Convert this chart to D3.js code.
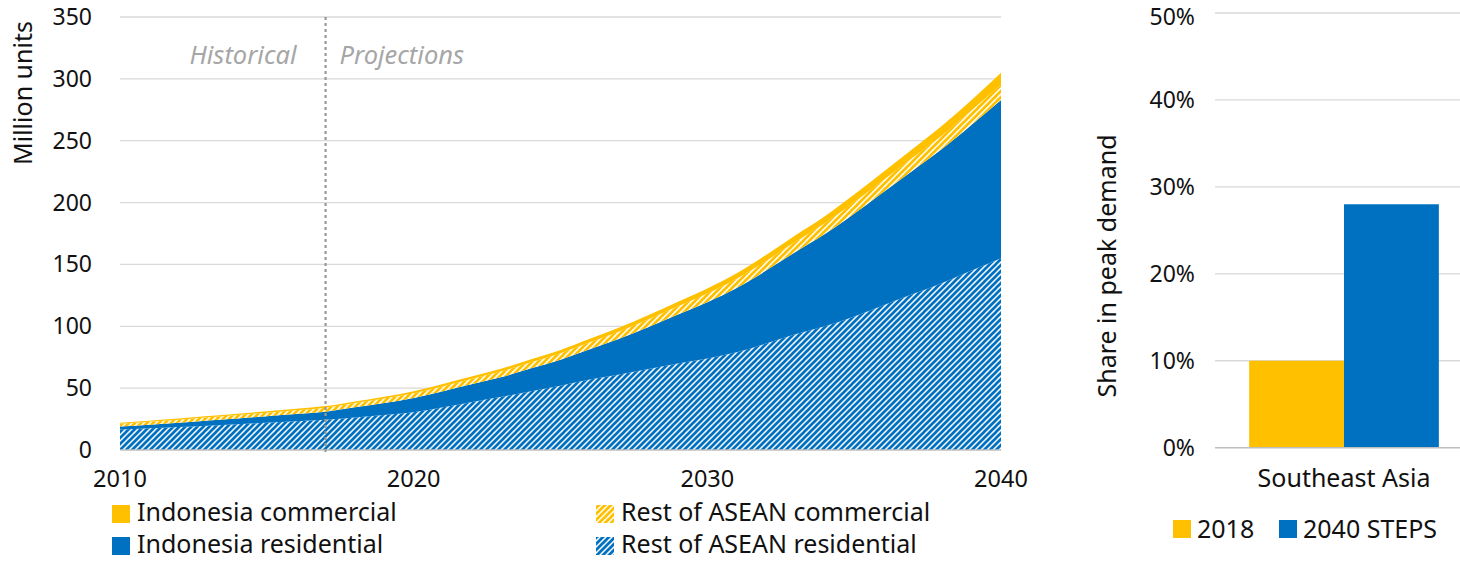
<!DOCTYPE html>
<html>
<head>
<meta charset="utf-8">
<script src="https://cdn.jsdelivr.net/npm/d3@7"></script>
<style>
  body { margin: 0; background: #fff; }
  text { font-family: "Noto Sans", sans-serif; fill: #111; }
</style>
</head>
<body>
<script>
// данные
years = d3.range(2010, 2041);
aseanRes = [16.5,17.5,18.6,19.7,20.8,22,23.2,24.4,26.2,28.2,30.5,34.5,38.8,43,47.5,52,57,61,65.5,70,74,79,86,93.5,100,108,117,126,135,145,155];
indoRes  = [2.5,3,3.4,4.1,4.7,5.3,5.9,6.6,8.3,9.8,11.5,13,14.5,16,18.5,21,24.5,29,34,39.5,45.5,52,59,66.5,74.5,83,91.5,100,108.5,118,128];
aseanCom = [2.3,2.4,2.5,2.6,2.8,2.9,3.0,3.2,3.4,3.6,3.8,4.0,4.3,4.6,4.9,5.2,5.5,5.8,6.2,6.6,7.0,7.4,7.8,8.3,8.8,9.3,9.8,10.4,11.0,11.7,12.5];
indoCom  = [0.7,0.8,0.9,1.0,1.0,1.1,1.2,1.3,1.4,1.5,1.7,1.9,2.0,2.2,2.4,2.6,2.9,3.2,3.5,3.8,4.1,4.5,4.9,5.3,5.7,6.2,6.7,7.2,7.8,8.3,9.5];
yTicks = [0, 50, 100, 150, 200, 250, 300, 350];
xTicks = [2010, 2020, 2030, 2040];
histEnd = 2017;

barCats = ['Southeast Asia'];
share2018 = [10];
share2040 = [28];
pctTicks = [0, 10, 20, 30, 40, 50];

yellow = '#ffc000';
blue = '#0070c0';
grid = '#d9d9d9';
tickSize = '23px';
labelSize = '25px';

svg = d3.select('body').append('svg')
   .attr('width', 1460)
   .attr('height', 561);

// штриховки
defs = svg.append('defs');
function hatch(id, color) {
   p = defs.append('pattern').attr('id', id)
      .attr('patternUnits', 'userSpaceOnUse')
      .attr('width', 6).attr('height', 6);
   p.append('rect').attr('width', 6).attr('height', 6).attr('fill', '#fff');
   p.append('path')
      .attr('d', 'M-1,1 l2,-2 M0,6 l6,-6 M5,7 l2,-2')
      .attr('stroke', color).attr('stroke-width', 2.7);
}
hatch('hBlue', blue);
hatch('hYellow', yellow);

// левый график
x = d3.scaleLinear().domain([2010, 2040]).range([120, 1001]);
y = d3.scaleLinear().domain([0, 350]).range([450, 17]);

svg.append('g').selectAll('line').data(yTicks.slice(1)).enter().append('line')
   .attr('x1', 120).attr('x2', 1001)
   .attr('y1', (d) => y(d)).attr('y2', (d) => y(d))
   .attr('stroke', grid).attr('stroke-width', 1.3);

rows = years.map((yr, i) => ({year: yr, aseanRes: aseanRes[i], indoRes: indoRes[i], aseanCom: aseanCom[i], indoCom: indoCom[i]}));
keys = ['aseanRes', 'indoRes', 'aseanCom', 'indoCom'];
fills = {aseanRes: 'url(#hBlue)', indoRes: blue, aseanCom: 'url(#hYellow)', indoCom: yellow};
stack = d3.stack().keys(keys)(rows);
area = d3.area()
   .x((d) => x(d.data.year))
   .y0((d) => y(d[0]))
   .y1((d) => y(d[1]))
   .curve(d3.curveMonotoneX);
svg.append('g').selectAll('path').data(stack).enter().append('path')
   .attr('d', area)
   .attr('fill', (d) => fills[d.key]);

// ось 0
svg.append('line').attr('x1', 120).attr('x2', 1001)
   .attr('y1', y(0)).attr('y2', y(0))
   .attr('stroke', '#bfbfbf').attr('stroke-width', 1.5);

// граница истории
svg.append('line').attr('x1', x(histEnd)).attr('x2', x(histEnd))
   .attr('y1', y(350)).attr('y2', y(0) + 5)
   .attr('stroke', '#999').attr('stroke-width', 2.2)
   .attr('stroke-dasharray', '3,3');
svg.append('text').attr('x', x(histEnd) - 29).attr('y', 55)
   .attr('dy', '0.35em')
   .attr('text-anchor', 'end').style('font-style', 'italic')
   .style('fill', '#a6a6a6').style('font-size', '25.5px').text('Historical');
svg.append('text').attr('x', x(histEnd) + 14).attr('y', 55)
   .attr('dy', '0.35em')
   .style('font-style', 'italic')
   .style('fill', '#a6a6a6').style('font-size', '25.5px').text('Projections');

svg.append('g').selectAll('text').data(yTicks).enter().append('text')
   .attr('x', 92).attr('y', (d) => y(d))
   .attr('dy', '0.35em').attr('text-anchor', 'end')
   .style('font-size', tickSize).text((d) => d);
svg.append('g').selectAll('text').data(xTicks).enter().append('text')
   .attr('x', (d) => x(d)).attr('y', 479)
   .attr('dy', '0.35em').attr('text-anchor', 'middle')
   .style('font-size', '23.5px').text((d) => d);
svg.append('text')
   .attr('transform', 'translate(23, 93) rotate(-90)')
   .attr('dy', '0.35em').attr('text-anchor', 'middle')
   .style('font-size', labelSize).text('Million units');

// легенда слева
legend = [
   {label: 'Indonesia commercial', fill: yellow, x: 112, y: 521},
   {label: 'Indonesia residential', fill: blue, x: 112, y: 553},
   {label: 'Rest of ASEAN commercial', fill: 'url(#hYellow)', x: 596, y: 521},
   {label: 'Rest of ASEAN residential', fill: 'url(#hBlue)', x: 596, y: 553}
];
lg = svg.append('g').selectAll('g').data(legend).enter().append('g');
lg.append('rect').attr('x', (d) => d.x).attr('y', (d) => d.y - 16)
   .attr('width', 18).attr('height', 18).attr('fill', (d) => d.fill);
lg.append('text').attr('x', (d) => d.x + 25).attr('y', (d) => d.y)
   .style('font-size', labelSize).text((d) => d.label);

// правый график
x2 = d3.scaleBand().domain(barCats).range([1215, 1473]).paddingOuter(0.18);
y2 = d3.scaleLinear().domain([0, 50]).range([447.7, 13]);
svg.append('g').selectAll('line').data(pctTicks.slice(1)).enter().append('line')
   .attr('x1', 1215).attr('x2', 1460)
   .attr('y1', (d) => y2(d)).attr('y2', (d) => y2(d))
   .attr('stroke', grid).attr('stroke-width', 1.3);
bw = x2.bandwidth() / 2;
barSeries = [{vals: share2018, fill: yellow, off: 0}, {vals: share2040, fill: blue, off: 1}];
barSeries.forEach((s) => {
   svg.append('g').selectAll('rect').data(barCats).enter().append('rect')
      .attr('x', (d) => x2(d) + s.off * bw)
      .attr('width', bw)
      .attr('y', (d, i) => y2(s.vals[i]))
      .attr('height', (d, i) => y2(0) - y2(s.vals[i]))
      .attr('fill', s.fill);
});
svg.append('line').attr('x1', 1215).attr('x2', 1460)
   .attr('y1', y2(0)).attr('y2', y2(0))
   .attr('stroke', '#bfbfbf').attr('stroke-width', 1.5);
// верхняя подпись чуть ниже, чтобы не обрезалась
svg.append('g').selectAll('text').data(pctTicks).enter().append('text')
   .attr('x', 1195).attr('y', (d) => Math.max(y2(d), 17))
   .attr('dy', '0.35em').attr('text-anchor', 'end')
   .style('font-size', tickSize).text((d) => d + '%');
svg.append('g').selectAll('text').data(barCats).enter().append('text')
   .attr('x', (d) => x2(d) + x2.bandwidth() / 2).attr('y', 478)
   .attr('dy', '0.35em').attr('text-anchor', 'middle')
   .style('font-size', labelSize).text((d) => d);
svg.append('text')
   .attr('transform', 'translate(1107, 266) rotate(-90)')
   .attr('dy', '0.35em').attr('text-anchor', 'middle')
   .style('font-size', labelSize).text('Share in peak demand');

legend2 = [
   {label: '2018', fill: yellow, x: 1173},
   {label: '2040 STEPS', fill: blue, x: 1279}
];
lg2 = svg.append('g').selectAll('g').data(legend2).enter().append('g');
lg2.append('rect').attr('x', (d) => d.x).attr('y', 520)
   .attr('width', 18).attr('height', 18).attr('fill', (d) => d.fill);
lg2.append('text').attr('x', (d) => d.x + 24).attr('y', 529)
   .attr('dy', '0.35em').style('font-size', labelSize).text((d) => d.label);
</script>
</body>
</html>
